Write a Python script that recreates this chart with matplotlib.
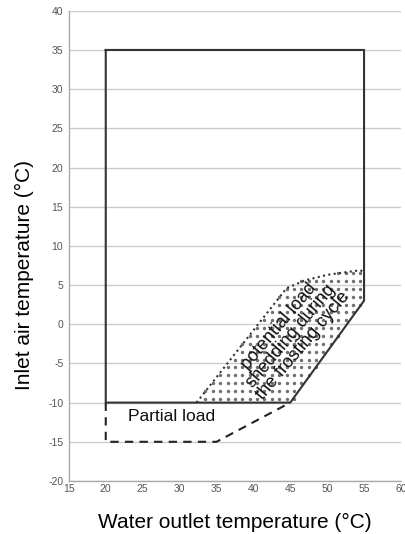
import numpy as np
import matplotlib
matplotlib.use("Agg")
import matplotlib.pyplot as plt
from matplotlib.path import Path

plt.rcParams['font.family'] = ['Liberation Sans', 'DejaVu Sans']
plt.rcParams['axes.unicode_minus'] = False

# Data
envelope_x = [20, 55, 55, 45, 20, 20]
envelope_y = [35, 35, 3, -10, -10, 35]
partial_x = [20, 20, 35, 45]
partial_y = [-10, -15, -15, -10]
shed_top_x = [32.3, 44.5, 47, 50, 54.5, 55, 55]
shed_top_y = [-10, 4.6, 5.6, 6.3, 6.9, 6.6, 3]
shed_bottom_x = [55, 45, 32.3]
shed_bottom_y = [3, -10, -10]
xticks = [15, 20, 25, 30, 35, 40, 45, 50, 55, 60]
yticks = [-20, -15, -10, -5, 0, 5, 10, 15, 20, 25, 30, 35, 40]

fig = plt.figure(figsize=(4.05, 5.34), dpi=100)
ax = fig.add_axes([0.170, 0.0993, 0.820, 0.8805])
ax.set_xlim(15, 60)
ax.set_ylim(-20, 40)
ax.set_xticks(xticks)
ax.set_yticks(yticks)
ax.tick_params(length=0, labelsize=7.5, colors='#555555', pad=2)
ax.tick_params(axis='y', pad=4)
for s in ['top', 'right']:
    ax.spines[s].set_visible(False)
for s in ['left', 'bottom']:
    ax.spines[s].set_color('#aaaaaa')
    ax.spines[s].set_linewidth(1)
ax.yaxis.grid(True, color='#cccccc', lw=1)
ax.set_axisbelow(True)

# dotted shading region
poly_x = shed_top_x + shed_bottom_x[1:]
poly_y = shed_top_y + shed_bottom_y[1:]
path = Path(np.column_stack([poly_x, poly_y]))
gx, gy = np.meshgrid(np.arange(15.5, 60, 1.0), np.arange(-9.5, 40, 1.0))
pts = np.column_stack([gx.ravel(), gy.ravel()])
inside = path.contains_points(pts, radius=-0.2)
ax.scatter(pts[inside, 0], pts[inside, 1], s=6, color='#6e6e6e', lw=0, zorder=2)

ax.plot(shed_top_x[:-1], shed_top_y[:-1], ls=(0, (1, 1.6)), color='#333333', lw=1.5, zorder=3)
ax.plot(envelope_x, envelope_y, color='#333333', lw=1.5, zorder=4)
ax.plot(partial_x, partial_y, color='#222222', lw=1.5, ls=(0, (4, 3)), zorder=4)

ax.text(23.0, -11.8, 'Partial load', fontsize=12.5, ha='left', va='center', color='#111111')
ax.text(45.1, -1.5, 'potential load\nshedding during\nthe frosting cycle', fontsize=13,
        ha='center', va='center', multialignment='center', rotation=50,
        rotation_mode='anchor', linespacing=0.9, color='#111111', zorder=5)

ax.set_xlabel('Water outlet temperature (°C)', fontsize=15, labelpad=14)
ax.set_ylabel('Inlet air temperature (°C)', fontsize=15)
ax.yaxis.set_label_coords(-0.105, 0.438)

fig.savefig('out.png', dpi=100)
